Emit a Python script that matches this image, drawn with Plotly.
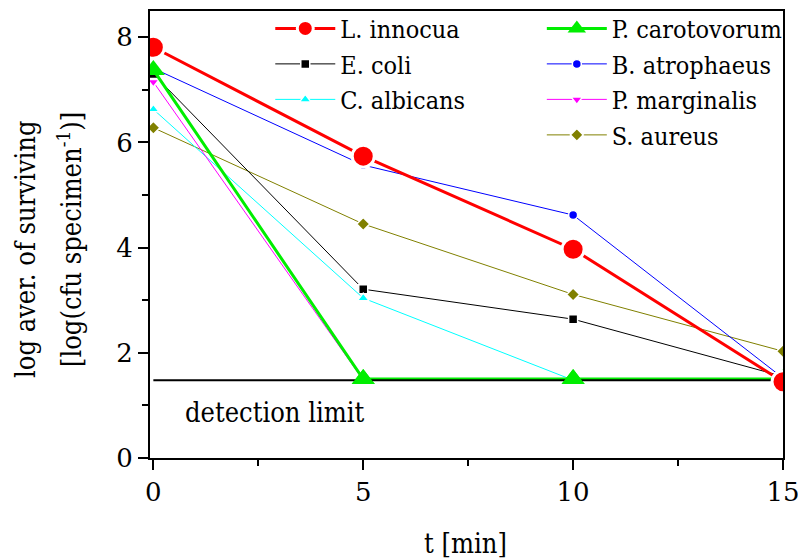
import plotly.graph_objects as go

TIMES = [0, 5, 10, 15]
L_INNOCUA = [7.81, 5.74, 3.97, 1.45]
P_CAROTOVORUM = [7.38, 1.50, 1.50, 1.50]
E_COLI = [7.30, 3.21, 2.64, 1.55]
B_ATROPHAEUS = [7.41, 5.57, 4.62, 1.52]
C_ALBICANS = [6.63, 3.04, 1.48, 1.48]
P_MARGINALIS = [7.15, 1.48, 1.48, 1.48]
S_AUREUS = [6.28, 4.45, 3.11, 2.03]
DETECTION_LIMIT = 1.48

FONT = "DejaVu Serif Condensed"
FONT_T = "DejaVu Serif"

fig = go.Figure()

def add(name, y, color, symbol, size, lw, legend, rank, outline=1.5):
    fig.add_trace(go.Scatter(
        x=TIMES, y=y, name=name, mode="lines+markers",
        line=dict(color=color, width=lw),
        marker=dict(symbol=symbol, size=size, color=color,
                    line=dict(color="white", width=outline)),
        legend=legend, legendrank=rank))

add("S. aureus", S_AUREUS, "#808000", "diamond", 10, 1, "legend2", 4)
add("E. coli", E_COLI, "black", "square", 9, 1, "legend", 2)
add("C. albicans", C_ALBICANS, "cyan", "triangle-up", 10, 1, "legend", 3)
add("P. marginalis", P_MARGINALIS, "magenta", "triangle-down", 10, 1, "legend2", 3)
add("B. atrophaeus", B_ATROPHAEUS, "blue", "circle", 9, 1, "legend2", 2)
add("P. carotovorum", P_CAROTOVORUM, "#00ee00", "triangle-up", 20, 3, "legend2", 1, outline=0)

fig.add_trace(go.Scatter(
    x=[TIMES[0], TIMES[-1]], y=[DETECTION_LIMIT, DETECTION_LIMIT],
    mode="lines", line=dict(color="black", width=2), showlegend=False,
    hoverinfo="skip"))
fig.add_trace(go.Scatter(
    x=TIMES[1:], y=P_CAROTOVORUM[1:], mode="markers", showlegend=False,
    marker=dict(symbol="triangle-up", size=20, color="#00ee00")))

add("L. innocua", L_INNOCUA, "red", "circle", 22, 3, "legend", 1, outline=3)

axis_common = dict(
    showline=True, linecolor="black", linewidth=2, mirror=True,
    ticks="outside", ticklen=10, tickwidth=2, tickcolor="black",
    showgrid=False, zeroline=False, automargin=False,
    ticklabeloverflow="allow",
    tickfont=dict(family=FONT_T, size=26, color="black"),
)

fig.update_xaxes(range=[-0.08, 15], tickvals=TIMES, ticktext=[str(t) for t in TIMES],
                 minor=dict(ticks="outside", ticklen=6, tickwidth=2, tickcolor="black",
                            dtick=2.5, tick0=0),
                 **axis_common)
fig.update_yaxes(range=[0, 8.5], dtick=2, tick0=0,
                 minor=dict(ticks="outside", ticklen=6, tickwidth=2, tickcolor="black",
                            dtick=1, tick0=0),
                 **axis_common)

legend_common = dict(
    xanchor="left", yanchor="top", bgcolor="rgba(0,0,0,0)",
    font=dict(family=FONT, size=25, color="black"),
    itemwidth=60, tracegroupgap=0, traceorder="normal",
)
fig.update_layout(
    width=798, height=558,
    margin=dict(l=150, r=15, t=11, b=100, autoexpand=False),
    paper_bgcolor="white", plot_bgcolor="white",
    font=dict(family=FONT, color="black"),
    legend=dict(x=0.19, y=1.012, **legend_common),
    legend2=dict(x=0.619, y=1.012, **legend_common),
    showlegend=True,
)

fig.add_annotation(text="log aver. of surviving", xref="paper", yref="paper",
                   x=(25 - 150) / 633, y=(458 - 249) / 447, textangle=-90,
                   showarrow=False, xanchor="center", yanchor="middle",
                   font=dict(family=FONT, size=27, color="black"))
fig.add_annotation(text="[log(cfu specimen<sup>-1</sup>)]", xref="paper", yref="paper",
                   x=(70 - 150) / 633, y=(458 - 240) / 447, textangle=-90,
                   showarrow=False, xanchor="center", yanchor="middle",
                   font=dict(family=FONT, size=27, color="black"))
fig.add_annotation(text="t [min]", xref="paper", yref="paper",
                   x=(465 - 150) / 633, y=(458 - 543) / 447,
                   showarrow=False, xanchor="center", yanchor="middle",
                   font=dict(family=FONT, size=27, color="black"))
fig.add_annotation(text="detection limit", xref="paper", yref="paper",
                   x=(183 - 150) / 633, y=(458 - 412) / 447,
                   showarrow=False, xanchor="left", yanchor="middle",
                   font=dict(family=FONT, size=27, color="black"))

fig.write_html("out.html")
